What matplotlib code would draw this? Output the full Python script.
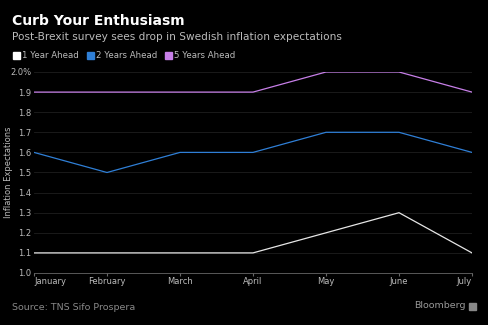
import matplotlib
matplotlib.use("Agg")
import matplotlib.pyplot as plt
from matplotlib.patches import Rectangle

months = ["January", "February", "March", "April", "May", "June", "July"]
one_year = [1.1, 1.1, 1.1, 1.1, 1.2, 1.3, 1.1]
two_years = [1.6, 1.5, 1.6, 1.6, 1.7, 1.7, 1.6]
five_years = [1.9, 1.9, 1.9, 1.9, 2.0, 2.0, 1.9]
yticks = [1.0, 1.1, 1.2, 1.3, 1.4, 1.5, 1.6, 1.7, 1.8, 1.9, 2.0]
ytick_labels = ["1.0", "1.1", "1.2", "1.3", "1.4", "1.5", "1.6", "1.7", "1.8", "1.9", "2.0%"]

W, H = 488, 325
fig = plt.figure(figsize=(W / 100, H / 100), dpi=100, facecolor="black")
ax = fig.add_axes([34 / W, 1 - 273 / H, (472 - 34) / W, (273 - 72) / H])
ax.set_facecolor("black")

x = list(range(len(months)))
ax.plot(x, one_year, color="#e6e6e6", lw=0.9)
ax.plot(x, two_years, color="#2f7fd6", lw=0.9)
ax.plot(x, five_years, color="#c77fe8", lw=0.9)

ax.set_xlim(0, len(months) - 1)
ax.set_ylim(1.0, 2.0)
ax.set_yticks(yticks)
ax.set_yticklabels(ytick_labels)
ax.set_xticks(x)
ax.set_xticklabels(months)
ax.grid(axis="y", color="#1e1e1e", lw=0.6)
for s in ax.spines.values():
    s.set_visible(False)
ax.axhline(1.0, color="#666666", lw=0.6, clip_on=False)
ax.tick_params(axis="y", length=0, pad=2, labelsize=6, colors="#bbbbbb")
ax.tick_params(axis="x", length=2, pad=1, labelsize=6, colors="#bbbbbb", color="#666666")
labels = ax.get_xticklabels()
labels[0].set_ha("left")
labels[-1].set_ha("right")
ax.set_ylabel("Inflation Expectations", color="#bbbbbb", fontsize=6)
ax.yaxis.set_label_coords(-21 / (472 - 34), 0.5)

fig.text(12 / W, 1 - 21 / H, "Curb Your Enthusiasm", color="white", fontsize=10,
         fontweight="bold", va="center", ha="left")
fig.text(12 / W, 1 - 37 / H, "Post-Brexit survey sees drop in Swedish inflation expectations",
         color="#bbbbbb", fontsize=7.6, va="center", ha="left")

legend_items = [("1 Year Ahead", "#ffffff", 13), ("2 Years Ahead", "#2f7fd6", 87), ("5 Years Ahead", "#c77fe8", 165)]
for label, col, px in legend_items:
    fig.patches.append(Rectangle((px / W, 1 - 59 / H), 7 / W, 7 / H, transform=fig.transFigure,
                                 color=col, figure=fig))
    fig.text((px + 9) / W, 1 - 55.5 / H, label, color="#bbbbbb", fontsize=6.2, va="center", ha="left")

fig.text(12 / W, 1 - 307 / H, "Source: TNS Sifo Prospera", color="#888888", fontsize=6.8, va="center", ha="left")
fig.text(466 / W, 1 - 306 / H, "Bloomberg", color="#999999", fontsize=6.8, va="center", ha="right")
fig.patches.append(Rectangle((469 / W, 1 - 310 / H), 7 / W, 7 / H, transform=fig.transFigure,
                             color="#888888", figure=fig))

fig.savefig("out.png", dpi=100, facecolor="black")
